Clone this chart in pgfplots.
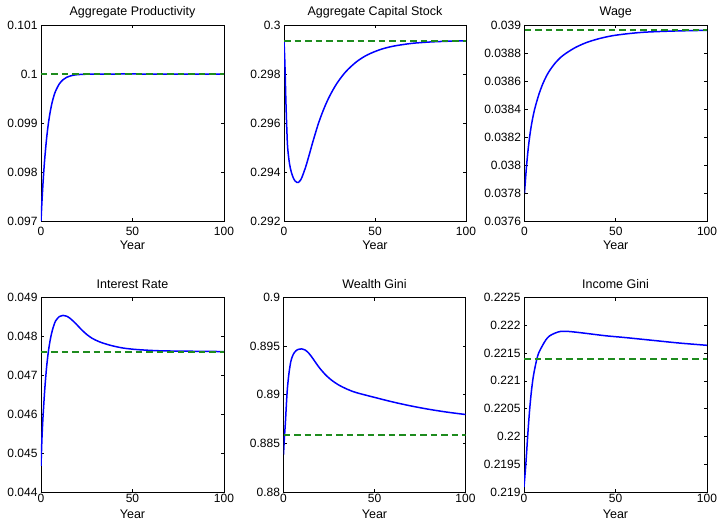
\documentclass[border=0pt]{standalone}
\usepackage{fontspec}
\setmainfont{Liberation Sans}
\usepackage{pgfplots}
\pgfplotsset{compat=1.18}

\definecolor{mblue}{RGB}{0,0,255}
\definecolor{mgreen}{RGB}{30,140,30}

\pgfplotsset{
  panel/.style={
    scale only axis, width=183pt,
    xmin=0, xmax=100, xtick={0,50,100}, xticklabels={0,50,100},
    scaled y ticks=false, scaled x ticks=false,
    axis line style={black, line width=0.8pt},
    every tick/.style={black, line width=0.6pt},
    major tick length=3pt,
    tick label style={font=\fontsize{12}{14}\selectfont},
    /pgf/number format/assume math mode=true,
    xlabel={Year},
    every axis title/.style={at={(axis description cs:0.5,1)}, anchor=base,
      yshift=9.3pt, inner sep=0pt, font=\fontsize{12.5}{14}\selectfont},
    every axis x label/.style={at={(axis description cs:0.5,0)}, anchor=base,
      inner sep=0pt, font=\fontsize{12.5}{14}\selectfont},
  },
  toprow/.style={panel, height=196pt, xticklabel style={yshift=-3pt},
    every axis x label/.append style={yshift=-28pt}},
  botrow/.style={panel, height=194.5pt, xticklabel style={yshift=1pt},
    every axis x label/.append style={yshift=-26.5pt}},
  transition/.style={mblue, line width=1.5pt, smooth},
  steady/.style={mgreen, line width=1.9pt, dash pattern=on 6.5pt off 4pt},
}

\begin{document}
\begin{tikzpicture}
\path[use as bounding box] (0,0) rectangle (719pt,-521pt);

% Aggregate productivity
\begin{axis}[toprow, at={(41pt,-221pt)}, anchor=south west,
  title={Aggregate Productivity},
  ymin=0.097, ymax=0.101, ytick={0.097,0.098,0.099,0.1,0.101},
  yticklabels={0.097,0.098,0.099,0.1,0.101}]
\addplot[transition] coordinates {
(0,0.097) (0.5,0.097380) (1,0.097710) (1.5,0.098000) (2,0.098252) (3,0.098665)
(4,0.098981) (5,0.099222) (6,0.099406) (7,0.099547) (8,0.099654) (10,0.099798)
(12,0.099882) (14,0.099932) (17,0.099970) (20,0.099987) (25,0.099996)
(30,0.099999) (40,0.1) (60,0.1) (80,0.1) (100,0.1)};
\addplot[steady] coordinates {(0,0.1) (100,0.1)};
\end{axis}

% Aggregate capital stock
\begin{axis}[toprow, at={(284pt,-221pt)}, anchor=south west, width=182pt,
  title={Aggregate Capital Stock},
  ymin=0.292, ymax=0.3, ytick={0.292,0.294,0.296,0.298,0.3},
  yticklabels={0.292,0.294,0.296,0.298,0.3}]
\addplot[transition] coordinates {
(0,0.29936) (0.5,0.29840) (1,0.29700) (1.5,0.29585) (2,0.29500) (3,0.29435)
(4,0.29400) (5,0.29378) (6,0.29364) (7,0.29358) (8,0.29358) (9,0.29366)
(10,0.29381) (12,0.29423) (14,0.29474) (16,0.29527) (19,0.29600)
(22,0.296596) (25,0.297088) (29,0.297611) (34,0.298098) (40,0.298509)
(46,0.298788) (53,0.29900) (60,0.299135) (70,0.299248) (80,0.299306)
(90,0.299337) (100,0.299353)};
\addplot[steady] coordinates {(0,0.29936) (100,0.29936)};
\end{axis}

% Wage
\begin{axis}[toprow, at={(524.5pt,-221pt)}, anchor=south west, width=182.5pt,
  title={Wage},
  ymin=0.0376, ymax=0.039,
  ytick={0.0376,0.0378,0.038,0.0382,0.0384,0.0386,0.0388,0.039},
  yticklabels={0.0376,0.0378,0.038,0.0382,0.0384,0.0386,0.0388,0.039}]
\addplot[transition] coordinates {
(0,0.037800) (1,0.037975) (2,0.038113) (3,0.038219) (4,0.038301) (5,0.038367)
(6,0.038421) (8,0.038509) (10,0.038579) (12,0.038635) (14,0.038679)
(17,0.038731) (20,0.038771) (23.2,0.038802) (28,0.038840) (34,0.038875)
(41,0.038903) (48,0.038923) (56,0.038937) (65,0.038948) (75,0.038954)
(85,0.038958) (100,0.038962)};
\addplot[steady] coordinates {(0,0.038964) (100,0.038964)};
\end{axis}

% Interest rate
\begin{axis}[botrow, at={(41pt,-492pt)}, anchor=south west,
  title={Interest Rate},
  ymin=0.044, ymax=0.049, ytick={0.044,0.045,0.046,0.047,0.048,0.049},
  yticklabels={0.044,0.045,0.046,0.047,0.048,0.049}]
\addplot[transition] coordinates {
(0,0.04467) (0.5,0.04535) (1,0.04585) (2,0.04660) (3,0.04718) (4,0.04760)
(5,0.04790) (6,0.04812) (7,0.04828) (8,0.04840) (10,0.04851) (12,0.04854)
(14,0.04852) (16,0.04846) (19,0.04833) (22,0.04818) (25,0.04805)
(28,0.04795) (32,0.04786) (38,0.04777) (45,0.04770) (53,0.04766)
(65,0.04763) (80,0.04762) (100,0.04761)};
\addplot[steady] coordinates {(0,0.04761) (100,0.04761)};
\end{axis}

% Wealth Gini
\begin{axis}[botrow, at={(283.5pt,-492pt)}, anchor=south west, width=182pt,
  title={Wealth Gini},
  ymin=0.88, ymax=0.9, ytick={0.88,0.885,0.89,0.895,0.9},
  yticklabels={0.88,0.885,0.89,0.895,0.9}]
\addplot[transition] coordinates {
(0,0.88386) (0.5,0.88560) (1,0.88700) (2,0.89030) (3,0.89220) (4,0.89340)
(5,0.89400) (6,0.89435) (7,0.89455) (8,0.89466) (9,0.89470) (10,0.89471)
(12,0.89459) (14,0.89425) (16,0.89376) (18,0.89322) (20,0.89271)
(23,0.89207) (26,0.89156) (30,0.89104) (35,0.89057) (40,0.89022)
(50,0.88973) (60,0.88926) (70,0.88885) (80,0.88850) (90,0.88821)
(100,0.88797)};
\addplot[steady] coordinates {(0,0.8859) (100,0.8859)};
\end{axis}

% Income Gini
\begin{axis}[botrow, at={(524pt,-492pt)}, anchor=south west,
  title={Income Gini},
  ymin=0.219, ymax=0.2225,
  ytick={0.219,0.2195,0.22,0.2205,0.221,0.2215,0.222,0.2225},
  yticklabels={0.219,0.2195,0.22,0.2205,0.221,0.2215,0.222,0.2225}]
\addplot[transition] coordinates {
(0,0.21909) (1,0.21950) (2,0.22000) (3,0.22045) (4,0.22080) (5,0.22106)
(6,0.22124) (7,0.22139) (8,0.22150) (10,0.22163) (12,0.22174) (14,0.22181)
(17,0.22186) (20,0.22189) (24,0.22189) (30,0.22187) (35,0.22185)
(45,0.22181) (55,0.22178) (70,0.22173) (85,0.22168) (100,0.22164)};
\addplot[steady] coordinates {(0,0.2214) (100,0.2214)};
\end{axis}
\end{tikzpicture}
\end{document}
